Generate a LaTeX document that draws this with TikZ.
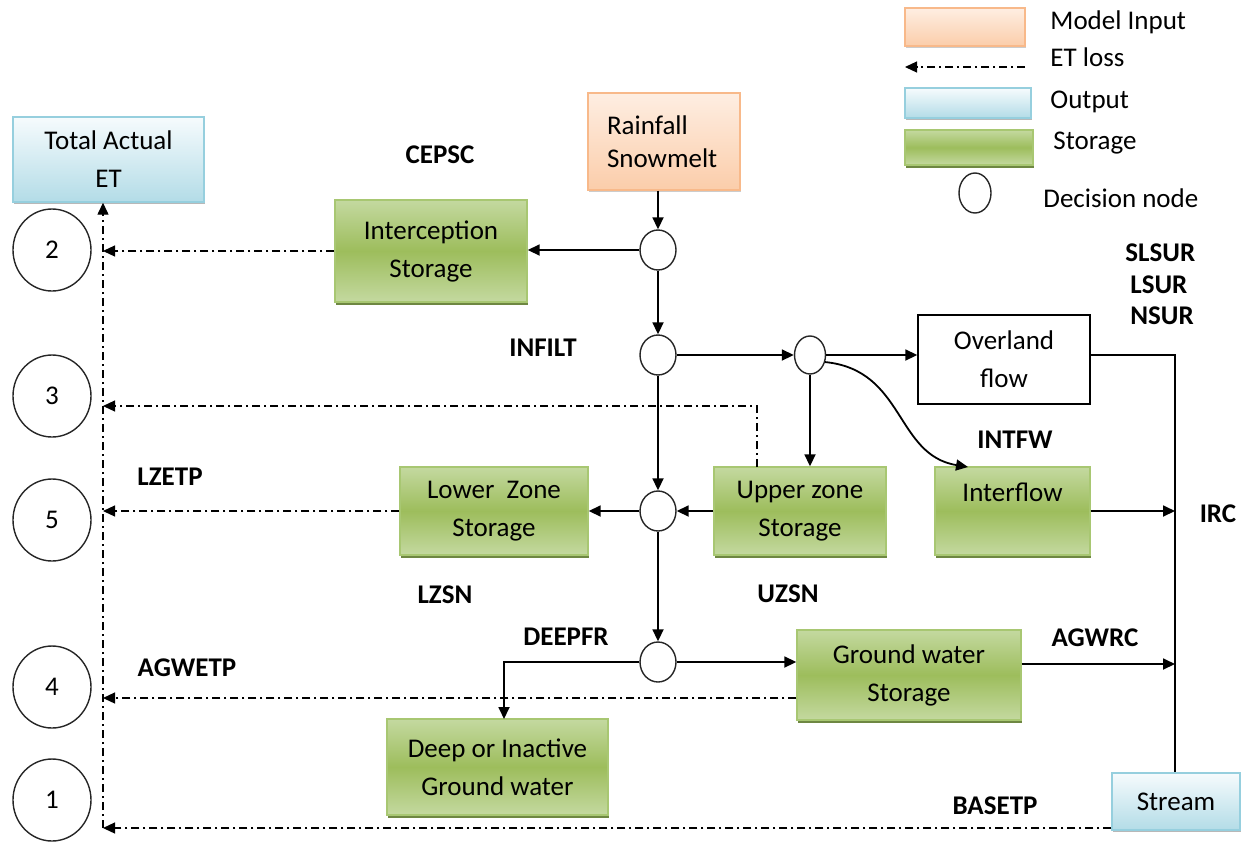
\documentclass[tikz,border=0pt]{standalone}
\usepackage{fontspec}
\setmainfont{Carlito}
\usetikzlibrary{arrows.meta,shapes.geometric,shadows,calc}

\definecolor{grLight}{HTML}{C4D9A0}
\definecolor{grMid}{HTML}{9DBD5C}
\definecolor{grBorder}{HTML}{A8C772}
\definecolor{grShadow}{HTML}{5E7A2E}
\definecolor{pcTop}{HTML}{FEEEE2}
\definecolor{pcBot}{HTML}{FBCDAA}
\definecolor{pcBorder}{HTML}{F8B98A}
\definecolor{blTop}{HTML}{F6FBFD}
\definecolor{blBot}{HTML}{B3DCE7}
\definecolor{blBorder}{HTML}{96CFDE}

\begin{document}
\begin{tikzpicture}[x=0.5pt,y=-0.5pt,
  font=\fontsize{13.5}{19}\selectfont,
  tip/.style={-{Triangle[length=6pt,width=5.5pt]}},
  flow/.style={line width=0.9pt, tip},
  plain/.style={line width=0.9pt},
  etloss/.style={line width=0.6pt, dash pattern=on 4pt off 2pt on 1pt off 2pt, tip},
  store/.style={draw=grBorder, line width=0.7pt, top color=grLight, bottom color=grLight,
    middle color=grMid, align=center, inner sep=0pt,
    drop shadow={shadow xshift=0.5pt, shadow yshift=-1.5pt, fill=grShadow, opacity=0.9}},
  inbox/.style={draw=pcBorder, line width=0.7pt, top color=pcTop, bottom color=pcBot,
    inner sep=0pt,
    drop shadow={shadow xshift=0.6pt, shadow yshift=-1.2pt, fill=black!25, opacity=0.8}},
  outbox/.style={draw=blBorder, line width=0.7pt, top color=blTop, bottom color=blBot,
    align=center, inner sep=0pt,
    drop shadow={shadow xshift=0.6pt, shadow yshift=-1.2pt, fill=black!35, opacity=0.8}},
  flowbox/.style={draw=black, line width=0.7pt, fill=white, align=center, inner sep=0pt},
  decide/.style={ellipse, draw=black!85, line width=0.7pt, fill=white, inner sep=0pt,
    minimum width=18pt, minimum height=20pt},
  tally/.style={ellipse, draw=black!85, line width=0.7pt, inner sep=0pt,
    minimum width=39pt, minimum height=41pt},
  tag/.style={font=\fontsize{13.5}{19}\selectfont\bfseries, inner sep=0pt},
  legtext/.style={anchor=west, inner sep=0pt},
]
\useasboundingbox (0,0) rectangle (1247,841);

% ---------- legend ----------
\node[inbox, minimum width=60pt, minimum height=19pt] (lgIn) at (965,27) {};
\node[legtext] (lgInT) at (1050,22) {Model Input};
\coordinate (lgA) at (1025,67);
\coordinate (lgB) at (905,67);
\draw[etloss] (lgA) -- (lgB);
\node[legtext] (lgEtT) at (1050,57) {ET loss};
\node[outbox, minimum width=63pt, minimum height=15pt] (lgOut) at (968,103) {};
\node[legtext] (lgOutT) at (1050,102) {Output};
\node[store, minimum width=64pt, minimum height=17.5pt] (lgSt) at (969,147.5) {};
\node[legtext] (lgStT) at (1053,143) {Storage};
\node[decide, minimum width=16pt, minimum height=20pt] (lgDn) at (975,193) {};
\node[legtext] (lgDnT) at (1043,198) {Decision node};

% ---------- output and tally circles ----------
\node[outbox, minimum width=95.5pt, minimum height=42.5pt] (tae) at (108.5,159.5) {Total Actual\\ET};
\node[tally] (c2) at (52,250) {2};
\node[tally] (c3) at (52,396) {3};
\node[tally] (c5) at (52,520) {5};
\node[tally] (c4) at (52,687) {4};
\node[tally] (c1) at (52,800) {1};

% ---------- boxes ----------
\node[inbox, minimum width=76pt, minimum height=48.5pt, text width=57pt, inner xsep=9.5pt, align=left]
  (rain) at (664,141.5) {Rainfall\\[-2.5pt]Snowmelt};
\node[store, minimum width=96pt, minimum height=51pt] (intc) at (431,251) {Interception\\Storage};
\node[flowbox, minimum width=86pt, minimum height=44.5pt] (ovl) at (1004,359.5) {Overland\\flow};
\node[store, minimum width=86pt, minimum height=44pt] (uzs) at (800,511) {Upper zone\\Storage};
\node[store, minimum width=77.5pt, minimum height=44pt] (intf) at (1012.5,511) {Interflow\\\mbox{}};
\node[store, minimum width=94pt, minimum height=44pt] (lzs) at (494,511) {Lower~ Zone\\Storage};
\node[store, minimum width=112pt, minimum height=45pt] (gws) at (909,675) {Ground water\\Storage};
\node[store, minimum width=110.5pt, minimum height=48pt] (deep) at (497.5,767) {Deep or Inactive\\Ground water};
\node[outbox, minimum width=64pt, minimum height=28.5pt] (stream) at (1176,801.5) {Stream};

% ---------- decision nodes ----------
\node[decide] (d1) at (658,250) {};
\node[decide] (d2) at (658,355) {};
\node[decide, minimum width=15.5pt, minimum height=19pt] (d3) at (810,355) {};
\node[decide] (d4) at (658,511) {};
\node[decide] (d5) at (658,662) {};

% ---------- labels ----------
\node[tag] (lCEPSC) at (440,155) {CEPSC};
\node[tag, anchor=west] (lSLSUR) at (1125,253) {SLSUR};
\node[tag, anchor=west] (lLSUR) at (1130,285) {LSUR};
\node[tag, anchor=west] (lNSUR) at (1130,316) {NSUR};
\node[tag] (lINFILT) at (543,348) {INFILT};
\node[tag] (lINTFW) at (1015,440) {INTFW};
\node[tag] (lIRC) at (1218,514) {IRC};
\node[tag] (lLZETP) at (170,477) {LZETP};
\node[tag] (lLZSN) at (445,595) {LZSN};
\node[tag] (lUZSN) at (788,594) {UZSN};
\node[tag] (lDEEPFR) at (566,637) {DEEPFR};
\node[tag] (lAGWRC) at (1095,638) {AGWRC};
\node[tag] (lAGWETP) at (187,668) {AGWETP};
\node[tag] (lBASETP) at (995,806) {BASETP};

% ---------- water flow ----------
\coordinate (jOv) at (1175,355);
\coordinate (jIf) at (1175,511);
\coordinate (jGw) at (1175,664);
\coordinate (deepIn) at (504,719);
\coordinate (ifIn) at (968,467);

\draw[flow] (rain.south -| d1) -- (d1);
\draw[flow] (d1) -- (d1 -| intc.east);
\draw[flow] (d1) -- (d2);
\draw[flow] (d2) -- (d3);
\draw[flow] (d3) -- (d3 -| ovl.west);
\draw[plain] (ovl.east |- jOv) -- (jOv) -- (jOv |- stream.north);
\draw[flow] (d3) -- (d3 |- uzs.north);
\draw[flow] (d3.-25) .. controls (905,370) and (895,455) .. (ifIn);
\draw[flow] (intf.east) -- (jIf);
\draw[flow] (uzs.west) -- (d4);
\draw[flow] (d2) -- (d4);
\draw[flow] (d4) -- (lzs.east);
\draw[flow] (d4) -- (d5);
\draw[flow] (d5) -- (d5 -| gws.west);
\draw[flow] (d5) -| (deepIn);
\draw[flow] (gws.east |- jGw) -- (jGw);

% ---------- ET losses ----------
\coordinate (trunk) at (103,828);
\coordinate (uzEt) at (757,467);
\draw[etloss] (stream.west |- trunk) -- (trunk);
\draw[etloss, line width=0.7pt] (trunk) -- (trunk |- tae.south);
\draw[etloss] (intc.west) -- (trunk |- intc.west);
\draw[etloss] (uzEt) |- (trunk |- 0,406);
\draw[etloss] (lzs.west) -- (trunk |- lzs.west);
\draw[etloss] (gws.west |- 0,698) -- (trunk |- 0,698);
\end{tikzpicture}
\end{document}
